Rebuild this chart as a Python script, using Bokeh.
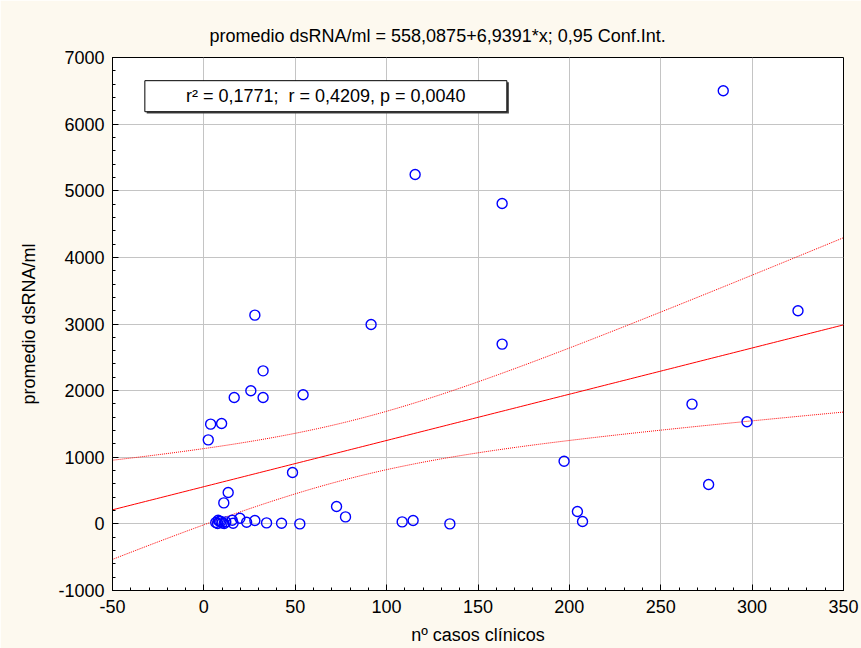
import numpy as np
from bokeh.plotting import figure
from bokeh.models import FixedTicker, Title, BoxAnnotation, Label, PrintfTickFormatter
from bokeh.embed import file_html
from bokeh.resources import INLINE

# ---- data ----
casos = [284.2, 115.6, 163.2, 325.1, 91.5, 163.2,
         27.9, 32.4, 25.7, 16.6, 32.4, 54.3, 9.7, 3.7, 2.4,
         48.5, 267.1, 297.2, 197.1, 276.2, 204.4, 207.2,
         72.6, 77.5, 108.5, 114.5, 134.6, 52.5, 42.5, 34.3,
         27.9, 23.4, 19.7, 16.0, 15.5, 13.3, 10.9, 11.1,
         9.3, 7.8, 7.5, 6.5, 10.0, 8.5, 12.0]
dsrna = [6501, 5245, 4809, 3198, 2992, 2698,
         3133, 2297, 1997, 1897, 1897, 1937, 1506, 1497, 1261,
         770, 1797, 1532, 941, 590, 185, 35,
         260, 105, 30, 50, 0, 0, 10, 15,
         50, 25, 85, 10, 55, 470, 315, 5,
         35, 55, 5, 20, 15, 40, 30]

intercept = 558.0875
slope = 6.9391
t_crit = 2.017  # two-sided 95 %, df = 43

x_ticks = [-50, 0, 50, 100, 150, 200, 250, 300, 350]
y_ticks = [-1000, 0, 1000, 2000, 3000, 4000, 5000, 6000, 7000]

title_text = "promedio dsRNA/ml = 558,0875+6,9391*x; 0,95 Conf.Int."
stats_text = "r\u00b2 = 0,1771;\u00a0 r = 0,4209, p = 0,0040"

# ---- regression line + confidence band ----
xa = np.array(casos, dtype=float)
ya = np.array(dsrna, dtype=float)
n = len(xa)
resid = ya - (intercept + slope * xa)
s = np.sqrt(np.sum(resid ** 2) / (n - 2))
xbar = xa.mean()
sxx = np.sum((xa - xbar) ** 2)
xl = np.linspace(x_ticks[0], x_ticks[-1], 200)
yl = intercept + slope * xl
half = t_crit * s * np.sqrt(1.0 / n + (xl - xbar) ** 2 / sxx)

FONT = "Liberation Sans"
FS = "18px"

p = figure(width=861, height=648, output_backend="svg", toolbar_location=None,
           x_range=(x_ticks[0], x_ticks[-1]), y_range=(y_ticks[0], y_ticks[-1]),
           min_border_left=112, min_border_right=18, min_border_top=57,
           min_border_bottom=58)
p.border_fill_color = "#FDF9EF"
p.background_fill_color = "white"
p.outline_line_color = "black"
p.outline_line_width = 1

t = Title(text=title_text, align="left", offset=97, text_font=FONT,
          text_font_size=FS, text_font_style="normal", text_color="black",
          standoff=24)
p.add_layout(t, "above")

p.xaxis.ticker = FixedTicker(ticks=x_ticks,
                             minor_ticks=list(np.arange(x_ticks[0], x_ticks[-1] + 1, 10)))
p.yaxis.ticker = FixedTicker(ticks=y_ticks,
                             minor_ticks=list(np.arange(y_ticks[0], y_ticks[-1] + 1, 200)))
for ax in (p.xaxis, p.yaxis):
    ax.formatter = PrintfTickFormatter(format="%d")
    ax.major_tick_in = 6
    ax.major_tick_out = 0
    ax.minor_tick_in = 3
    ax.minor_tick_out = 0
    ax.axis_line_color = "black"
    ax.major_tick_line_color = "black"
    ax.minor_tick_line_color = "black"
    ax.major_label_text_font = FONT
    ax.major_label_text_font_size = FS
    ax.major_label_text_color = "black"
    ax.axis_label_text_font = FONT
    ax.axis_label_text_font_size = FS
    ax.axis_label_text_font_style = "normal"
    ax.axis_label_text_color = "black"
p.xaxis.axis_label = "n\u00ba casos cl\u00ednicos"
p.yaxis.axis_label = "promedio dsRNA/ml"
p.xaxis.major_label_standoff = 9
p.yaxis.major_label_standoff = 8
p.xaxis.axis_label_standoff = 9
p.yaxis.axis_label_standoff = 16

p.xgrid.ticker = FixedTicker(ticks=x_ticks)
p.ygrid.ticker = FixedTicker(ticks=y_ticks)
p.grid.grid_line_color = "#C4C4C4"
p.grid.grid_line_width = 1

p.line(xl, yl, line_color="red", line_width=1)
p.line(xl, yl + half, line_color="red", line_width=1, line_dash="1 1")
p.line(xl, yl - half, line_color="red", line_width=1, line_dash="1 1")

p.scatter(casos, dsrna, marker="circle", size=10, fill_color=None,
          line_color="#0000FF", line_width=1.4)

# stats box
shadow = BoxAnnotation(left=-31.3, right=166.9, top=6630, bottom=6160,
                       fill_color="#444444", fill_alpha=1, line_color=None, level="overlay")
box = BoxAnnotation(left=-32.3, right=165.8, top=6652, bottom=6186,
                    fill_color="white", fill_alpha=1, line_color="black",
                    line_width=1, line_alpha=1, level="overlay")
p.add_layout(shadow)
p.add_layout(box)
lab = Label(x=66.7, y=6419, text=stats_text, text_font=FONT, text_font_size=FS,
            text_align="center", text_baseline="middle", text_color="black", level="overlay")
p.add_layout(lab)

open("out.html", "w").write(file_html(p, INLINE))
